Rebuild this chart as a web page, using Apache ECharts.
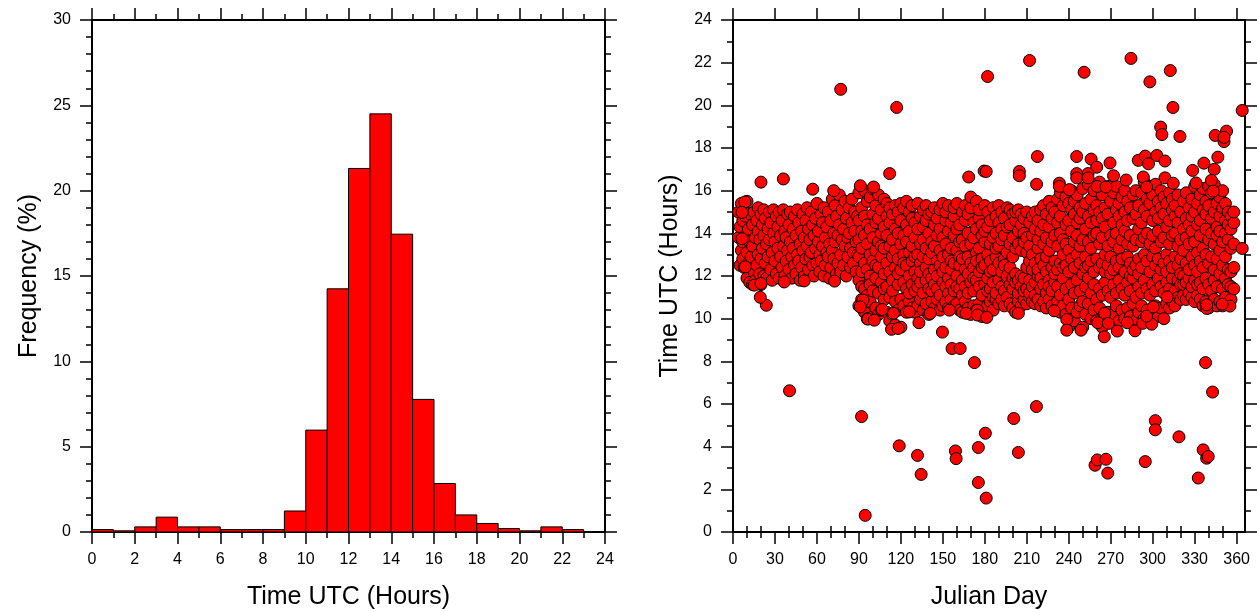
<!DOCTYPE html>
<html>
<head>
<meta charset="utf-8">
<script src="https://cdn.jsdelivr.net/npm/echarts@6/dist/echarts.min.js"></script>
<style>
html,body{margin:0;padding:0;background:#fff;}
#c{width:1257px;height:612px;}
</style>
</head>
<body>
<div id="c"></div>
<script>
// ---------- Histogram data (left panel) ----------
const binStarts = [0,1,2,3,4,5,6,7,8,9,10,11,12,13,14,15,16,17,18,19,20,21,22,23];
const freqPct   = [0.14,0.07,0.3,0.87,0.3,0.3,0.14,0.14,0.14,1.23,5.97,14.25,21.3,24.5,17.45,7.77,2.84,1.0,0.5,0.2,0.07,0.3,0.14,0.03];
const binWidth = 1;

// ---------- Scatter data (right panel): [julianDay, timeUTC] ----------
const outliersHigh = [
 [77,20.75],[117,19.9],[182,21.35],[20,16.4],[36,16.55],[112,16.8],[57,16.07],[168.5,16.64],[179.5,16.92],[181,16.9],[91,16.23],[100.5,16.17],[72,16.0],
 [212,22.1],[251,21.55],[284.5,22.2],[298,21.1],[312.6,21.63],[314.5,19.9],[364,19.76],[305.7,18.98],[306.6,18.63],[319.5,18.54],[344.7,18.59],[352.8,18.79],[351,18.3],[351,18.5],
 [217.6,17.6],[245.7,17.6],[256,17.48],[260,17.1],[269.5,17.3],[272,16.7],[289.7,17.42],[294.7,17.62],[297,17.26],[303,17.65],[308.8,17.39],[346.6,17.57],[336.6,17.29],[344,17.0],[328.6,16.95],[342,16.48],
 [204.7,16.9],[204.7,16.7],[217,16.3],[245.7,16.8],[245.7,16.6],[253.8,16.8],[253.8,16.6],[281,16.5],[293.3,16.64],[308.8,16.6],[314.7,16.35],[233.3,16.35],[233.3,16.2],[240.4,16.05],[260.4,16.2],[266.6,16.17],[295.7,16.17],[331,16.36],[343.3,15.98]
];
const outliersLow = [
 [40.4,6.62],[91.9,5.41],[94.5,0.78],[118.8,4.04],[131.9,3.59],[134.5,2.7],[159,3.8],[159.5,3.44],[175.4,3.96],[175.4,2.32],[180.4,4.63],[181,1.59],[172.6,7.94],[149.7,9.37],[156.6,8.6],[162.4,8.6],
 [23.8,10.63],[19.5,11.0],[337.8,7.94],[342.8,6.56],[216.9,5.88],[200.7,5.32],[204,3.73],[258.8,3.13],[260.4,3.38],[266.6,3.41],[267.9,2.76],[294.7,3.3],[301.9,5.22],[301.9,4.79],[318.8,4.46],[332.6,2.53],[336.1,3.85],[338.6,3.46],[339.7,3.54],[364,13.29]
];
const cloudEdge = [
 [92.9,10.87],[91,10.55],[96.4,9.98],[101,9.93],[113.3,9.5],[118,9.54],[114.7,10.25],[126,10.32],[132.9,9.81],[141,10.25],[154.7,10.4],[166.6,10.25],[174.7,10.4],[174.7,10.17],[181.4,10.06],[106.6,10.43],
 [238.6,9.96],[238.6,9.46],[248.8,9.46],[265.4,9.15],[265.7,10.25],[274.7,9.42],[281.9,9.81],[287.4,9.43],[260.7,9.81],[268.3,9.78],[292.9,9.78],[299.3,9.74],[295.7,10.12],[204,10.25],[229.5,10.37],
 [355.2,10.59],[349.7,10.68],[338.6,10.48],[338.6,10.65],[310.4,11.02],[300.4,10.55],
 [15.2,11.57],[20,11.65],[36.6,11.72],[50.9,11.77],[72.6,11.76],[8.5,15.47],[6.4,14.98],[6.4,13.75],[8.8,12.43]
];
// rows: [day, time, time, ...]
const cloudEarly = [
 [4,13.8,15.0],[5,12.5,14.3],[6,15.4,13.2],[7,12.8,14.6,13.6],[8,12.4,15.1],[9,13.9,14.8],[10,11.9,13.1,15.5],[11,14.2,12.6],[12,13.6,11.7],[13,14.9,12.9],
 [14,11.6,13.4,14.4],[15,12.2,15.0],[16,13.8,11.8],[17,14.6,12.5],[18,13.0,14.1,15.2],[19,12.1,13.7],[20,14.9,12.8,11.6],[21,13.3,14.4],[22,12.0,15.1,13.9],[23,12.6,14.7],
 [24,13.5,11.9],[25,14.2,12.9],[26,15.0,13.7],[27,12.3,14.5],[28,13.1,11.8],[29,14.0,15.1],[30,12.7,13.6],[31,14.8,12.1],[32,13.3,14.3],[33,11.9,15.0],
 [34,12.9,13.9],[35,14.6,12.4],[36,13.4,15.1],[37,12.0,14.1],[38,13.8,12.7],[39,14.9,13.2],[40,12.3,14.4],[41,13.6,15.0],[42,11.9,12.9],[43,14.2,13.3],
 [44,12.5,14.8],[45,13.9,12.1],[46,15.1,13.0],[47,12.7,14.5],[48,13.5,11.8],[49,14.1,12.4],[50,13.2,14.9],[51,12.0,13.8],[52,14.6,12.8],[53,13.4,15.2],
 [54,12.3,14.2],[55,13.7,12.9],[56,15.0,13.1],[57,12.5,14.4],[58,13.9,12.0],[59,14.7,13.3],[60,12.6,15.4],[61,13.6,14.1],[62,12.2,13.0],[63,14.9,12.7],
 [64,13.4,14.5],[65,12.0,15.2],[66,13.8,12.5],[67,14.3,13.1],[68,12.9,15.0],[69,13.5,11.9],[70,14.6,12.4],[71,13.2,15.6],[72,12.8,14.0],[73,15.3,13.6],
 [74,12.1,14.8],[75,13.9,12.6],[76,14.4,15.8],[77,13.0,12.2],[78,15.1,13.7],[79,12.5,14.2],[80,13.4,15.5],[81,12.0,14.7],[82,13.8,12.9],[83,15.2,14.0],
 [84,12.4,13.3],[85,14.5,15.6],[86,13.1,12.6],[87,14.1,15.0],[88,12.2,13.6],[89,14.8,13.0]
];
const cloudLate = [
 [90,10.6,11.8,12.9,13.7,14.6,15.9],[92,10.9,12.2,13.3,14.1,15.2,11.5],[94,10.3,11.4,12.6,13.9,14.8,16.0],[96,10.0,11.1,12.3,13.5,14.4,15.5],[98,10.8,12.0,13.0,14.2,15.7,11.6],
 [100,10.1,11.3,12.7,13.8,14.9,16.1],[102,10.5,11.9,13.2,14.5,15.3,12.5],[104,10.2,11.2,12.4,13.6,14.7,15.8],[106,10.4,11.7,12.9,14.0,15.1,13.4],[108,10.9,12.1,13.3,14.3,15.6,11.4],
 [110,10.3,11.5,12.6,13.9,14.8,15.4],[112,9.9,11.0,12.2,13.4,14.5,15.2],[114,10.2,11.8,12.9,13.7,14.9,11.3],[116,9.7,10.8,12.4,13.2,14.2,15.3],[118,10.4,11.6,12.8,14.0,15.0,12.1],
 [120,9.6,10.9,12.3,13.5,14.6,15.4],[122,10.6,11.7,13.0,13.9,15.2,12.6],[124,10.3,11.4,12.5,13.6,14.4,15.5],[126,10.8,12.0,13.1,14.1,15.0,11.2],[128,10.5,11.6,12.7,13.4,14.7,15.3],
 [130,10.3,11.3,12.2,13.8,14.5,12.9],[132,10.6,11.9,13.0,14.2,15.4,11.5],[134,10.9,11.7,12.6,13.5,14.8,12.2],[136,10.4,11.2,12.9,13.7,15.1,14.3],[138,10.7,11.8,12.4,13.3,14.6,15.3],
 [140,10.2,11.4,12.8,14.0,14.9,12.1],[142,10.8,11.9,13.1,13.6,15.0,11.3],[144,10.5,11.6,12.3,13.4,14.4,15.2],[146,10.9,12.0,12.7,13.9,14.7,11.4],[148,10.4,11.1,12.5,13.2,14.2,15.1],
 [150,10.6,11.7,12.9,13.8,15.4,12.2],[152,10.8,11.5,12.4,13.5,14.6,15.0],[154,10.5,11.9,13.0,14.1,15.3,11.2],[156,10.9,11.6,12.7,13.3,14.5,12.3],[158,10.6,11.3,12.6,13.9,14.8,15.2],
 [160,10.7,12.0,13.2,14.2,15.4,11.5],[162,10.4,11.4,12.5,13.6,14.4,12.9],[164,10.3,11.8,12.8,13.7,15.0,11.1],[166,10.8,11.5,12.3,13.4,14.6,15.3],[168,10.5,11.2,12.9,14.0,14.9,12.1],
 [170,10.2,11.7,12.6,13.5,15.2,15.7],[172,10.6,11.3,12.4,13.8,14.5,11.9],[174,10.4,11.8,13.1,14.2,15.5,12.7],[176,10.7,11.5,12.2,13.3,14.7,15.1],[178,10.1,11.1,12.8,13.9,14.4,12.4],
 [180,10.3,11.6,12.5,13.6,15.3,14.1],[182,10.6,11.9,13.0,14.3,15.0,11.3],[184,10.8,11.4,12.7,13.5,14.6,12.2],[186,10.4,11.7,12.3,13.8,15.2,11.0],[188,10.9,11.2,12.9,14.0,14.8,13.3],
 [190,10.7,11.8,12.6,13.4,14.5,15.3],[192,10.9,11.5,12.2,13.7,15.0,14.2],[194,10.6,11.3,12.8,13.9,14.7,12.5],[196,11.0,11.9,13.1,14.3,15.2,12.0],[198,10.7,11.6,12.4,13.5,14.4,15.1],
 [200,10.5,11.4,12.9,13.8,14.9,11.9],[202,10.3,11.7,12.1,13.3,14.6,15.0],[204,10.8,11.2,13.5,14.1,15.1,11.8],[206,10.6,11.5,13.2,14.4,14.9,12.0],[208,10.9,11.9,13.6,14.0,14.7,11.3],
 [210,10.7,11.4,12.4,13.8,15.0,13.1],[212,11.0,11.8,12.7,13.4,14.5,11.2],[214,10.8,11.5,12.3,13.9,14.8,13.0],[216,10.7,11.7,12.6,14.2,15.0,11.1],[218,10.9,12.0,13.3,13.7,14.6,12.3],
 [220,10.6,11.4,12.8,14.1,15.1,11.9],[222,10.8,11.6,12.5,13.5,14.4,15.3],[224,10.5,11.2,12.9,13.8,14.9,12.2],[226,10.9,11.8,13.2,14.3,15.5,11.5],[228,10.6,11.3,12.4,13.6,14.7,15.2],
 [230,10.4,11.7,12.7,13.9,15.0,12.1],[232,10.8,11.5,12.3,13.4,14.5,15.6],[234,10.3,11.1,12.6,14.0,14.8,15.9],[236,10.6,11.9,13.0,13.7,15.3,12.4],[238,10.2,11.4,12.5,13.5,14.4,15.7],
 [240,9.6,10.9,12.2,13.2,14.6,15.4],[242,10.5,11.6,12.8,14.1,15.1,16.0],[244,9.9,11.2,12.4,13.6,14.9,15.5],[246,10.3,11.8,13.0,13.9,14.5,15.8],[248,10.6,11.3,12.6,13.4,14.7,15.2],
 [250,9.6,10.8,12.1,13.7,15.0,16.1],[252,10.2,11.5,12.9,14.2,15.4,12.4],[254,10.7,11.9,12.5,13.6,14.8,16.3],[256,10.0,11.2,12.7,13.3,14.5,15.6],[258,10.4,11.6,12.2,13.9,15.1,16.0],
 [260,9.9,10.9,12.8,14.0,14.6,15.3],[262,10.5,11.4,12.4,13.5,15.0,16.4],[264,9.6,11.1,12.6,13.8,14.7,15.8],[266,10.1,11.7,13.0,14.3,15.2,12.2],[268,10.3,11.3,12.5,13.4,14.9,16.2],
 [270,9.8,11.0,12.9,13.9,15.5,12.1],[272,10.2,11.6,12.3,13.6,14.5,15.9],[274,10.6,11.2,12.7,14.0,15.1,16.2],[276,9.9,11.8,12.4,13.3,14.8,15.4],[278,10.4,11.4,12.8,13.7,14.4,15.7],
 [280,10.0,11.1,12.2,14.1,15.0,16.0],[282,10.5,11.7,12.9,13.5,14.6,15.5],[284,10.1,11.3,12.6,13.9,15.2,12.0],[286,10.7,11.9,12.3,13.4,14.7,15.8],[288,9.9,11.0,12.5,13.7,14.9,16.0],
 [290,10.3,11.5,12.8,14.2,15.3,12.1],[292,10.6,11.2,12.4,13.6,14.5,15.9],[294,10.0,11.8,13.0,13.8,15.1,16.4],[296,10.4,11.4,12.7,14.0,14.8,15.6],[298,9.9,11.1,12.2,13.5,15.4,16.2],
 [300,10.2,11.6,12.9,13.9,14.6,15.8],[302,10.6,11.3,12.5,13.3,15.0,16.3],[304,10.1,11.9,12.8,14.1,14.7,15.5],[306,10.5,11.5,12.3,13.6,15.2,16.0],[308,10.0,11.2,12.6,13.8,14.9,15.7],
 [310,10.7,11.7,13.0,14.3,15.4,12.2],[312,10.5,11.4,12.7,13.5,14.6,15.9],[314,10.8,11.9,12.4,13.9,15.1,15.6],[316,10.6,11.3,12.9,14.0,14.8,15.3],[318,11.0,11.8,12.5,13.4,14.5,15.8],
 [320,10.9,11.6,12.8,13.7,15.0,12.1],[322,11.1,12.0,13.2,14.2,15.5,11.6],[324,10.9,11.7,12.6,13.8,14.7,15.9],[326,11.2,11.9,12.3,13.5,15.2,14.4],[328,11.0,11.5,12.9,14.1,14.8,15.6],
 [330,10.8,11.8,12.5,13.6,15.0,16.2],[332,11.1,12.2,13.1,14.4,15.4,11.6],[334,10.9,11.7,12.7,13.9,14.6,15.8],[336,10.6,11.4,12.4,13.3,15.1,16.1],[338,10.8,11.9,13.0,14.2,14.9,15.5],
 [340,10.5,11.6,12.6,13.7,15.3,16.2],[342,10.7,11.3,12.9,14.0,14.7,15.9],[344,10.9,11.8,12.3,13.5,15.0,16.3],[346,10.6,11.5,12.8,14.3,15.4,13.9],[348,10.8,12.1,13.2,14.1,14.8,15.7],
 [350,10.6,11.4,12.5,13.6,15.2,16.0],[352,11.0,11.9,12.9,14.0,14.6,15.4],[354,10.7,11.6,12.3,13.7,15.0,14.4],[356,10.9,12.2,13.3,14.2,14.8,11.5],[358,11.4,12.4,13.5,14.5,15.0]
];

const dayMajor = [0,30,60,90,120,150,180,210,240,270,300,330,360];
const dayMinor = [10,20,40,50,70,80,100,110,130,140,160,170,190,200,220,230,250,260,280,290,310,320,340,350];

// ---------- build ----------
const histData = binStarts.map((s, i) => [s, s + binWidth, freqPct[i]]);
function rowsToPoints(rows) {
  const out = [];
  rows.forEach(r => { for (let k = 1; k < r.length; k++) out.push([r[0], r[k]]); });
  return out;
}
const scatterData = [].concat(rowsToPoints(cloudEarly), rowsToPoints(cloudLate), cloudEdge, outliersHigh, outliersLow);

const FONT = "'Liberation Sans', Arial, Helvetica, sans-serif";
const lineStyle = { color: '#000', width: 2 };
const tickStyle = { color: '#000', width: 1.5 };
const labelStyle = { color: '#000', fontSize: 16, fontFamily: FONT };
const nameStyle = { color: '#000', fontSize: 25, fontFamily: FONT };

const chart = echarts.init(document.getElementById('c'), null, { renderer: 'canvas' });
chart.setOption({
  animation: false,
  backgroundColor: '#fff',
  grid: [
    { left: 92, top: 20, width: 513, height: 512, containLabel: false, outerBoundsMode: 'none' },
    { left: 733, top: 20, width: 512, height: 512, containLabel: false, outerBoundsMode: 'none' }
  ],
  xAxis: [
    { gridIndex: 0, type: 'value', position: 'bottom', min: 0, max: 24, interval: 2,
      name: 'Time UTC (Hours)', nameLocation: 'middle', nameGap: 53, nameTextStyle: nameStyle,
      axisLine: { onZero: false, lineStyle }, axisTick: { length: 12, lineStyle: tickStyle },
      minorTick: { show: true, splitNumber: 2, length: 6, lineStyle: tickStyle },
      axisLabel: Object.assign({ margin: 20 }, labelStyle), splitLine: { show: false } },
    { gridIndex: 0, type: 'value', position: 'top', min: 0, max: 24, interval: 2,
      axisLine: { onZero: false, lineStyle }, axisTick: { length: 12, lineStyle: tickStyle },
      minorTick: { show: true, splitNumber: 2, length: 6, lineStyle: tickStyle },
      axisLabel: { show: false }, splitLine: { show: false } },
    { gridIndex: 1, type: 'value', position: 'bottom', min: 0, max: 366,
      name: 'Julian Day', nameLocation: 'middle', nameGap: 53, nameTextStyle: nameStyle,
      axisLine: { onZero: false, lineStyle }, axisTick: { length: 12, lineStyle: tickStyle, customValues: dayMajor },
      axisLabel: Object.assign({ margin: 20, customValues: dayMajor }, labelStyle), splitLine: { show: false } },
    { gridIndex: 1, type: 'value', position: 'top', min: 0, max: 366,
      axisLine: { onZero: false, lineStyle }, axisTick: { length: 12, lineStyle: tickStyle, customValues: dayMajor },
      axisLabel: { show: false }, splitLine: { show: false } },
    { gridIndex: 1, type: 'value', position: 'bottom', min: 0, max: 366,
      axisLine: { show: false }, axisTick: { length: 6, lineStyle: tickStyle, customValues: dayMinor },
      axisLabel: { show: false }, splitLine: { show: false } },
    { gridIndex: 1, type: 'value', position: 'top', min: 0, max: 366,
      axisLine: { show: false }, axisTick: { length: 6, lineStyle: tickStyle, customValues: dayMinor },
      axisLabel: { show: false }, splitLine: { show: false } }
  ],
  yAxis: [
    { gridIndex: 0, type: 'value', position: 'left', min: 0, max: 30, interval: 5,
      name: 'Frequency (%)', nameLocation: 'middle', nameGap: 50, nameTextStyle: nameStyle,
      axisLine: { show: true, onZero: false, lineStyle }, axisTick: { show: true, length: 12, lineStyle: tickStyle },
      minorTick: { show: true, splitNumber: 5, length: 6, lineStyle: tickStyle },
      axisLabel: Object.assign({ margin: 21 }, labelStyle), splitLine: { show: false } },
    { gridIndex: 0, type: 'value', position: 'right', min: 0, max: 30, interval: 5,
      axisLine: { show: true, onZero: false, lineStyle }, axisTick: { show: true, length: 12, lineStyle: tickStyle },
      minorTick: { show: true, splitNumber: 5, length: 6, lineStyle: tickStyle },
      axisLabel: { show: false }, splitLine: { show: false } },
    { gridIndex: 1, type: 'value', position: 'left', min: 0, max: 24, interval: 2,
      name: 'Time UTC (Hours)', nameLocation: 'middle', nameGap: 50, nameTextStyle: nameStyle,
      axisLine: { show: true, onZero: false, lineStyle }, axisTick: { show: true, length: 12, lineStyle: tickStyle },
      minorTick: { show: true, splitNumber: 2, length: 6, lineStyle: tickStyle },
      axisLabel: Object.assign({ margin: 21 }, labelStyle), splitLine: { show: false } },
    { gridIndex: 1, type: 'value', position: 'right', min: 0, max: 24, interval: 2,
      axisLine: { show: true, onZero: false, lineStyle }, axisTick: { show: true, length: 12, lineStyle: tickStyle },
      minorTick: { show: true, splitNumber: 2, length: 6, lineStyle: tickStyle },
      axisLabel: { show: false }, splitLine: { show: false } }
  ],
  series: [
    { type: 'custom', xAxisIndex: 0, yAxisIndex: 0, data: histData,
      encode: { x: [0, 1], y: 2 },
      renderItem: function (params, api) {
        const p0 = api.coord([api.value(0), api.value(2)]);
        const p1 = api.coord([api.value(1), 0]);
        return { type: 'rect',
          shape: { x: p0[0], y: p0[1], width: p1[0] - p0[0], height: p1[1] - p0[1] },
          style: { fill: '#ff0000', stroke: '#000', lineWidth: 1 } };
      } },
    { type: 'scatter', xAxisIndex: 2, yAxisIndex: 2, data: scatterData,
      symbol: 'circle', symbolSize: 12, clip: true,
      itemStyle: { color: '#ff0000', borderColor: '#000', borderWidth: 1, opacity: 1 } }
  ]
});
</script>
</body>
</html>
